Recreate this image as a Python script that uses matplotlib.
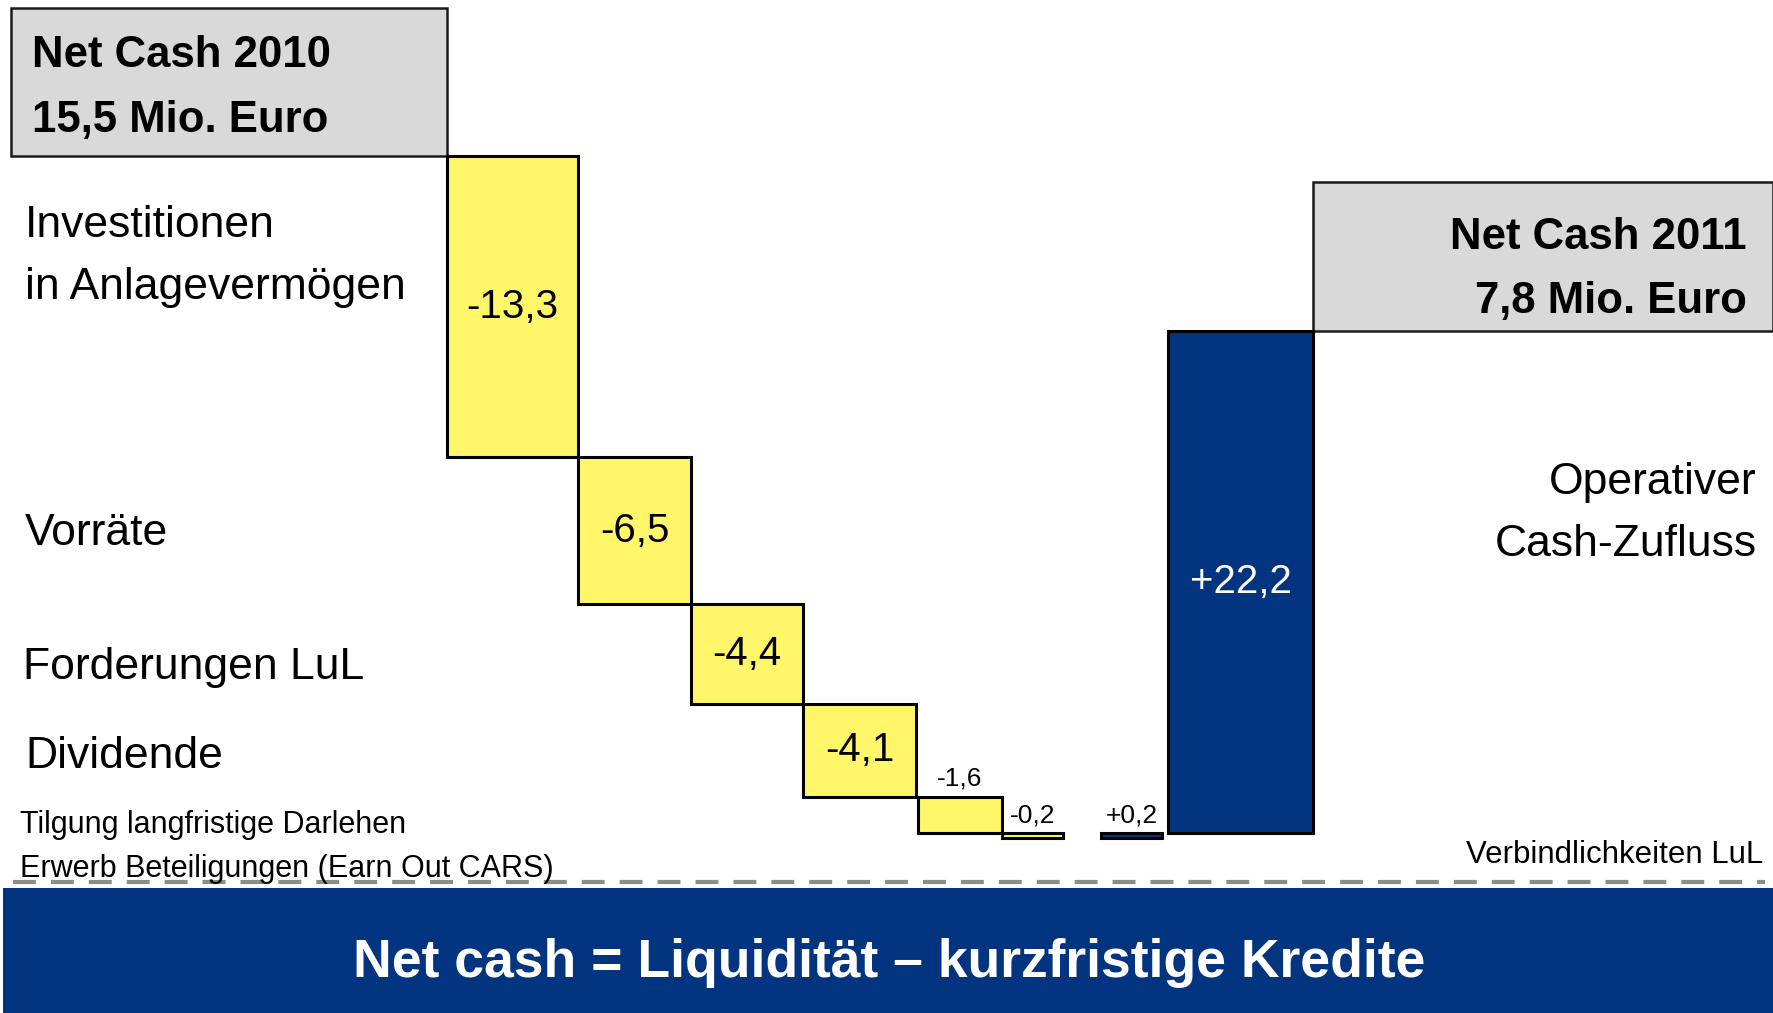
import numpy as np
import matplotlib.pyplot as plt
from matplotlib.lines import Line2D
from matplotlib.patches import Rectangle

plt.rcParams['font.family'] = ['Liberation Sans', 'DejaVu Sans']

# --- data -----------------------------------------------------------------
start_value = 15.5
end_value = 7.8
start_text = ['Net Cash 2010', '15,5 Mio. Euro']
end_text = ['Net Cash 2011', '7,8 Mio. Euro']
steps = ['Investitionen\nin Anlagevermögen', 'Vorräte', 'Forderungen LuL', 'Dividende',
         'Tilgung langfristige Darlehen', 'Erwerb Beteiligungen (Earn Out CARS)',
         'Verbindlichkeiten LuL', 'Operativer\nCash-Zufluss']
deltas = [-13.3, -6.5, -4.4, -4.1, -1.6, -0.2, 0.2, 22.2]
footer = 'Net cash = Liquidität – kurzfristige Kredite'

# --- layout (pixels of the 1774x1013 canvas) --------------------------------
W, H = 1774, 1013
bar_left = [447, 578, 691, 803, 918, 1002, 1101, 1168]
bar_right = [578, 691, 803, 916, 1002, 1063, 1162, 1313]
label_x = [25, 25, 23, 25, 20, 20, 1763, 1757]
label_y = [237, 545, 679, 768, 833, 877, 863, 494]
label_ha = ['left'] * 6 + ['right', 'right']
label_size = [32, 32, 32, 32, 22, 22, 22.5, 32]
small_bars = [4, 5, 6]

YELLOW = '#FFF66A'
BLUE = '#033480'
GRAY = '#D9D9D9'


def fx(x):
    return x / W


def fy(y):
    return 1 - y / H


fig = plt.figure(figsize=(W / 100, H / 100), dpi=100)
ax = fig.add_axes([0, 0, 1, 1])
ax.set_xlim(0, W)
ax.set_ylim(-22.345, 22.40)
ax.axis('off')

# waterfall bars
levels = start_value + np.cumsum(deltas)
prev = np.concatenate([[start_value], levels[:-1]])
bottoms = np.minimum(prev, levels)
heights = np.abs(deltas)
lefts = np.array(bar_left)
widths = np.array(bar_right) - lefts
colors = [YELLOW if d < 0 else BLUE for d in deltas]
ax.bar(lefts, heights, width=widths, bottom=bottoms, align='edge',
       color=colors, edgecolor='black', linewidth=2.2, zorder=3)

# value labels
for i, d in enumerate(deltas):
    txt = f'{d:+.1f}'.replace('.', ',')
    cx = lefts[i] + widths[i] / 2
    if i in small_bars:
        ax.annotate(txt, (cx, bottoms[i] + heights[i]), xytext=(0, 8),
                    textcoords='offset points', ha='center', va='baseline',
                    fontsize=19, zorder=4)
    else:
        ax.text(cx, bottoms[i] + heights[i] / 2, txt, ha='center', va='center',
                fontsize=29, color='white' if d > 0 else 'black', zorder=4)

# start / end boxes
box_h = 6.55
ax.bar([11], [box_h], width=436, bottom=start_value, align='edge',
       color=GRAY, edgecolor='#1a1a1a', linewidth=1.8, zorder=2)
ax.bar([1313], [box_h], width=460, bottom=end_value, align='edge',
       color=GRAY, edgecolor='#1a1a1a', linewidth=1.8, zorder=2)
for k, line in enumerate(start_text):
    fig.text(fx(32), fy(67 + 65 * k), line, ha='left', va='baseline',
             fontsize=31.5, fontweight='bold')
for k, line in enumerate(end_text):
    fig.text(fx(1747), fy(249 + 64 * k), line, ha='right', va='baseline',
             fontsize=31.5, fontweight='bold')

# category labels
for i, lab in enumerate(steps):
    for k, line in enumerate(lab.split('\n')):
        fig.text(fx(label_x[i]), fy(label_y[i] + 62 * k), line,
                 ha=label_ha[i], va='baseline', fontsize=label_size[i])

# dashed separator and footer band
fig.add_artist(Line2D([fx(13), fx(1765)], [fy(882), fy(882)], color='#8C8C8C',
                      linewidth=3, dashes=(5.5, 3.6)))
fig.add_artist(Rectangle((fx(3), 0), fx(W - 3), fy(888), transform=fig.transFigure,
                         facecolor=BLUE, edgecolor='none'))
fig.text(fx(889), fy(977), footer, ha='center', va='baseline', fontsize=38.5,
         fontweight='bold', color='white')

fig.savefig('out.png', dpi=100)
